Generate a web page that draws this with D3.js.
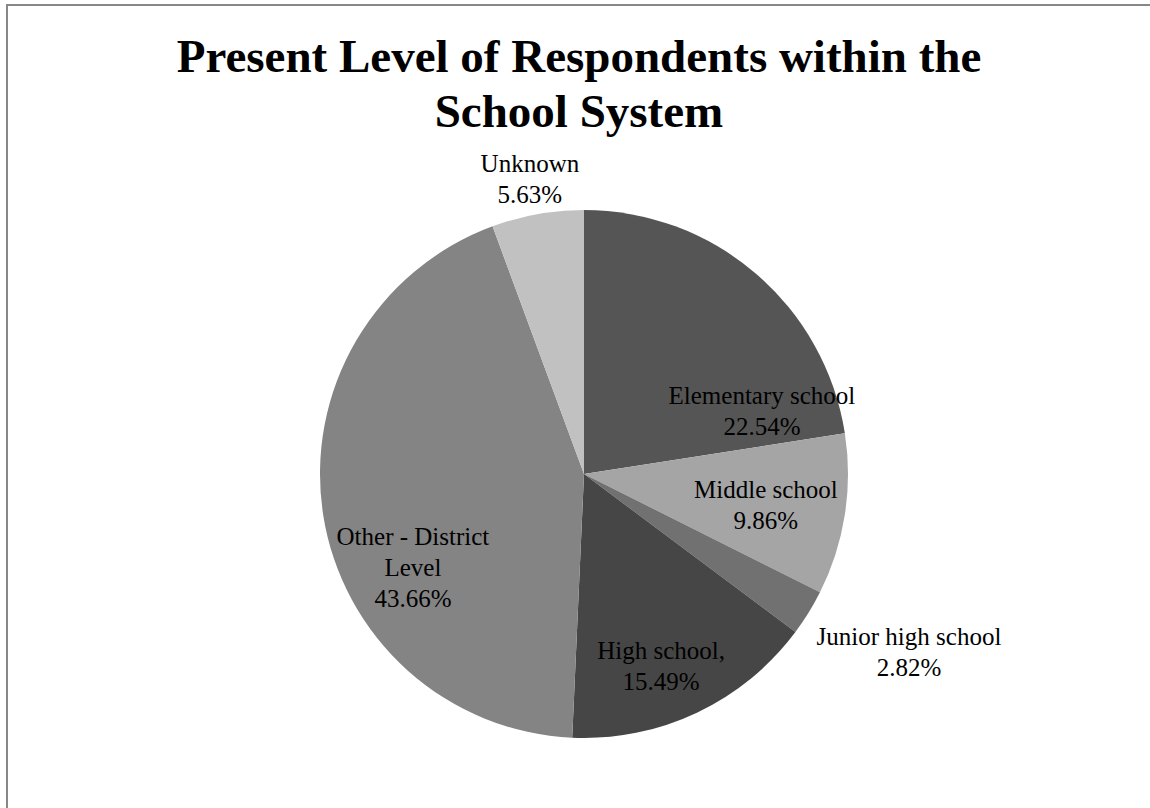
<!DOCTYPE html>
<html>
<head>
<meta charset="utf-8">
<script src="https://cdn.jsdelivr.net/npm/d3@7"></script>
<style>
  html, body { margin: 0; padding: 0; background: #fff; }
  svg { display: block; }
</style>
</head>
<body>
<svg id="chart" width="1150" height="808"></svg>
<script>
// Respondent levels (share of respondents, %)
const categories = ["Elementary school", "Middle school", "Junior high school", "High school,", "Other - District Level", "Unknown"];
const shares = [22.54, 9.86, 2.82, 15.49, 43.66, 5.63];
const labelLines = [
  ["Elementary school"],
  ["Middle school"],
  ["Junior high school"],
  ["High school,"],
  ["Other - District", "Level"],
  ["Unknown"]
];
const fills = ["#555555", "#a5a5a5", "#717171", "#464646", "#848484", "#c1c1c1"];
// label anchor offsets, in units of the pie radius
const labelOffsets = [[0.674, -0.24], [0.689, 0.116], [1.231, 0.674], [0.292, 0.725], [-0.648, 0.352], [-0.205, -1.117]];

const W = 1150, H = 808;
const svg = d3.select("#chart");

// frame (top and left edges visible)
svg.append("rect")
  .attr("x", 7).attr("y", 5)
  .attr("width", W + 20).attr("height", H + 20)
  .attr("fill", "none").attr("stroke", "#888").attr("stroke-width", 2);

// title
const title = svg.append("text")
  .attr("text-anchor", "middle")
  .attr("font-family", "'Liberation Serif', 'Times New Roman', serif")
  .attr("font-weight", "bold")
  .attr("font-size", 47)
  .attr("fill", "#000");
title.append("tspan").attr("x", 579).attr("y", 72).text("Present Level of Respondents within the");
title.append("tspan").attr("x", 579).attr("y", 127).text("School System");

const cx = 584, cy = 474, r = 264;
const data = categories.map((c, i) => ({ name: c, value: shares[i], lines: labelLines[i], fill: fills[i], off: labelOffsets[i] }));

const pie = d3.pie().sort(null).value(d => d.value).startAngle(0).endAngle(2 * Math.PI);
const arc = d3.arc().innerRadius(0).outerRadius(r);

const g = svg.append("g").attr("transform", `translate(${cx},${cy})`);
g.selectAll("path.slice")
  .data(pie(data))
  .join("path")
  .attr("class", "slice")
  .attr("d", arc)
  .attr("fill", d => d.data.fill);

// data labels: category lines followed by the percentage
const fmt = d3.format(".2f");
const lineH = 31, fs = 25;
const labels = g.selectAll("text.lbl")
  .data(pie(data))
  .join("text")
  .attr("class", "lbl")
  .attr("text-anchor", "middle")
  .attr("font-family", "'Liberation Serif', 'Times New Roman', serif")
  .attr("font-size", fs)
  .attr("fill", "#000");

labels.each(function (d) {
  const t = d3.select(this);
  const lines = d.data.lines.concat([fmt(d.data.value) + "%"]);
  const x = d.data.off[0] * r, y = d.data.off[1] * r;
  const y0 = y - (lines.length - 1) * lineH / 2;
  lines.forEach((ln, k) => {
    t.append("tspan")
      .attr("x", x)
      .attr("y", y0 + k * lineH)
      .attr("dy", "0.35em")
      .text(ln);
  });
});
</script>
</body>
</html>
